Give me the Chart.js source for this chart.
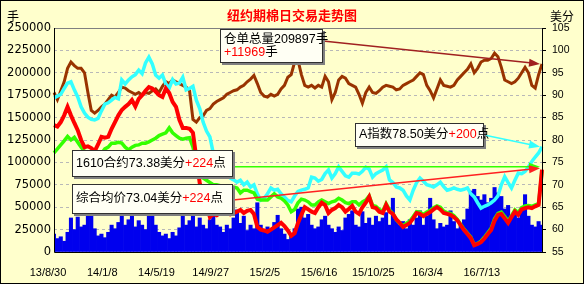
<!DOCTYPE html>
<html lang="zh-CN">
<head>
<meta charset="UTF-8">
<title>纽约期棉日交易走势图</title>
<script src="https://cdn.jsdelivr.net/npm/chart.js"></script>
<style>
    html, body { margin: 0; padding: 0; background: #ffffff; }
    canvas { display: block; }
</style>
</head>
<body>
<canvas id="myChart" width="587" height="288"></canvas>
<script>
    // x轴日期标签 (每16个点一个)
    var tickLabels = ['13/8/30', '14/1/8', '14/5/19', '14/9/27', '15/2/5', '15/6/16', '15/10/25', '16/3/4', '16/7/13'];

    // 成交量(手) 左轴
    var volume = [
        20000, 15000, 17000, 12000, 22000, 38000, 25000, 39000, 28000, 30000,
        45000, 40000, 26000, 18000, 20000, 16000, 22000, 30000, 26000, 33000,
        42000, 30000, 36000, 44000, 28000, 35000, 30000, 25000, 44000, 45000,
        30000, 22000, 18000, 20000, 15000, 22000, 18000, 27000, 47000, 30000,
        35000, 44000, 28000, 38000, 30000, 26000, 36000, 40000, 30000, 28000,
        22000, 30000, 26000, 38000, 47000, 32000, 40000, 24000, 30000, 26000,
        55000, 30000, 22000, 28000, 24000, 33000, 41000, 26000, 20000, 14000,
        18000, 26000, 48000, 50000, 38000, 42000, 30000, 26000, 28000, 36000,
        40000, 30000, 26000, 22000, 28000, 24000, 38000, 42000, 46000, 30000,
        28000, 45000, 32000, 38000, 30000, 40000, 34000, 38000, 44000, 30000,
        60000, 36000, 30000, 34000, 26000, 36000, 30000, 38000, 46000, 30000,
        40000, 60000, 36000, 26000, 32000, 28000, 30000, 46000, 34000, 26000,
        30000, 36000, 48000, 68000, 70000, 62000, 58000, 64000, 55000, 60000,
        72000, 66000, 62000, 48000, 52000, 40000, 45000, 38000, 50000, 64000,
        40000, 30000, 28000, 34000, 30000
    ];

    // 仓单总量(手) 左轴
    var stock = [
        178000, 170000, 180000, 190000, 205000, 212000, 208000, 205000, 205000, 200000,
        178000, 158000, 155000, 158000, 162000, 165000, 170000, 175000, 173000, 178000,
        184000, 183000, 180000, 178000, 176000, 178000, 175000, 178000, 177000, 180000,
        182000, 178000, 185000, 190000, 188000, 192000, 190000, 188000, 186000, 184000,
        180000, 148000, 145000, 150000, 152000, 158000, 160000, 165000, 168000, 170000,
        172000, 176000, 178000, 180000, 181000, 184000, 186000, 190000, 193000, 197000,
        188000, 178000, 174000, 173000, 176000, 174000, 176000, 182000, 186000, 195000,
        198000, 212000, 214000, 198000, 186000, 184000, 186000, 183000, 186000, 184000,
        196000, 190000, 170000, 178000, 192000, 196000, 194000, 188000, 186000, 184000,
        176000, 166000, 178000, 184000, 178000, 177000, 180000, 184000, 186000, 185000,
        184000, 181000, 182000, 186000, 188000, 190000, 192000, 196000, 200000, 198000,
        186000, 180000, 172000, 182000, 192000, 186000, 185000, 184000, 186000, 192000,
        196000, 200000, 204000, 210000, 200000, 205000, 212000, 214000, 214000, 216000,
        222000, 218000, 206000, 192000, 190000, 188000, 190000, 194000, 200000, 206000,
        200000, 186000, 183000, 198000, 209897
    ];

    // A指数(美分) 右轴
    var aIndex = [
        89.4, 89.8, 90.2, 91.5, 92.7, 93.0, 91.2, 89.6, 87.4, 86.0,
        85.1, 84.6, 84.5, 84.8, 86.5, 88.0, 88.3, 88.9, 89.5, 89.2,
        93.4, 92.5, 93.4, 94.1, 94.6, 95.6, 94.8, 97.2, 98.5, 97.0,
        94.5, 93.8, 94.5, 92.5, 91.6, 93.5, 92.5, 92.7, 94.0, 91.2,
        91.5, 92.0, 88.9, 87.0, 84.0, 82.0, 80.7, 77.1, 75.0, 73.5,
        72.5, 72.0, 71.5, 71.1, 70.6, 71.0, 70.0, 70.6, 69.5, 70.0,
        68.0, 66.6, 67.0, 68.0, 69.3, 68.8, 69.0, 68.0, 67.3, 66.5,
        66.2, 67.5, 68.5, 68.8, 69.0, 69.3, 71.7, 71.5, 70.8, 71.2,
        72.5, 73.3, 71.5, 72.5, 74.0, 73.0, 72.0, 71.7, 72.6, 72.6,
        72.4, 73.0, 73.9, 73.5, 71.7, 72.5, 72.9, 73.3, 74.0, 71.1,
        70.5, 69.5, 69.3, 68.8, 67.5, 66.6, 68.8, 70.5, 71.5, 70.8,
        70.0, 69.8, 69.5, 70.0, 70.6, 69.6, 68.8, 69.0, 69.3, 69.0,
        68.8, 69.0, 69.3, 68.0, 67.3, 66.0, 64.8, 65.2, 65.5, 66.0,
        66.6, 67.5, 70.0, 71.8, 70.5, 69.3, 71.0, 72.6, 72.5, 73.0,
        74.0, 75.2, 76.2, 77.1, 78.5
    ];

    // 1610合约(美分) 右轴
    var c1610 = [
        83.3, 83.0, 84.0, 85.5, 87.4, 85.5, 83.8, 82.2, 80.0, 78.4,
        78.6, 78.2, 77.5, 79.0, 80.7, 80.5, 80.7, 82.5, 84.0, 85.5,
        86.7, 87.4, 88.0, 88.9, 87.5, 89.2, 90.0, 91.0, 91.8, 91.5,
        90.8, 90.0, 89.6, 91.5, 90.5, 88.5, 87.4, 84.5, 82.7, 82.7,
        82.5, 81.6, 76.0, 70.4, 68.0, 65.5, 62.8, 63.5, 63.2, 63.7,
        63.5, 63.7, 63.4, 63.7, 64.0, 64.4, 63.7, 64.2, 64.4, 63.5,
        60.6, 60.0, 59.8, 59.5, 60.0, 60.5, 61.0, 61.5, 60.8, 59.8,
        58.6, 59.2, 61.5, 63.3, 65.0, 64.5, 64.0, 63.7, 65.0, 66.0,
        65.5, 63.7, 64.4, 64.8, 65.5, 65.0, 64.0, 64.6, 65.3, 64.0,
        63.5, 65.0, 66.0, 67.3, 65.0, 64.8, 64.0, 63.7, 65.5, 64.0,
        63.5, 62.3, 61.5, 60.6, 61.0, 61.5, 62.5, 63.7, 63.5, 63.0,
        63.5, 63.9, 64.5, 65.0, 64.5, 63.7, 63.5, 63.3, 62.8, 62.1,
        61.0, 59.9, 59.0, 58.1, 56.5, 56.8, 57.2, 58.0, 59.0, 59.9,
        62.0, 63.3, 63.5, 62.5, 61.5, 62.8, 64.0, 63.3, 64.5, 64.8,
        65.0, 64.8, 65.2, 65.5, 73.38
    ];

    // 综合均价(美分) 右轴
    var avgPrice = [
        77.1, 78.0, 78.9, 79.8, 80.8, 80.0, 80.6, 79.5, 78.4, 77.5,
        76.5, 76.0, 75.5, 76.0, 77.0, 78.0, 78.4, 79.3, 79.3, 79.5,
        79.3, 78.4, 77.8, 78.4, 78.8, 78.9, 79.3, 79.3, 79.6, 80.0,
        80.4, 81.0, 81.3, 81.6, 82.7, 81.6, 81.0, 80.4, 80.2, 80.4,
        80.5, 78.4, 75.0, 72.5, 71.5, 71.0, 70.5, 70.0, 70.0, 69.8,
        69.5, 69.6, 69.5, 69.5, 69.3, 68.2, 68.8, 68.8, 68.5, 68.2,
        66.8, 66.6, 66.6, 66.6, 67.3, 68.0, 67.3, 67.0, 66.4, 65.5,
        64.0, 64.5, 66.0, 66.8, 66.6, 66.2, 65.5, 65.5, 66.2, 66.6,
        66.2, 65.8, 66.2, 66.4, 67.0, 66.6, 66.0, 65.8, 66.2, 66.2,
        65.5, 66.2, 66.6, 67.5, 65.4, 65.2, 64.5, 64.1, 65.8, 64.4,
        63.6, 62.2, 61.4, 60.9, 61.4, 61.9, 62.9, 64.0, 63.9, 63.4,
        63.9, 64.3, 64.9, 65.3, 65.0, 64.1, 63.8, 63.6, 63.1, 62.3,
        61.2, 60.1, 59.2, 58.3, 56.6, 56.9, 57.4, 58.3, 59.3, 60.3,
        62.4, 63.6, 63.9, 62.9, 61.9, 63.1, 64.4, 63.8, 64.9, 65.3,
        65.4, 65.2, 65.5, 65.8, 73.04
    ];

    // 标注文字用的最新数据
    var stockNow = 209897, stockChg = 11969;
    var aNow = '78.50', aChg = 200;
    var c1610Now = '73.38', c1610Chg = 224;
    var avgNow = '73.04', avgChg = 224;

    var labels = volume.map(function (v, i) { return i; });
    var BG = '#ffffcc';

    function drawArrow(ctx, x1, y1, x2, y2, color) {
        var ang = Math.atan2(y2 - y1, x2 - x1);
        ctx.save();
        ctx.strokeStyle = color;
        ctx.fillStyle = color;
        ctx.lineWidth = 1.5;
        ctx.beginPath();
        ctx.moveTo(x1, y1);
        ctx.lineTo(x2 - 8 * Math.cos(ang), y2 - 8 * Math.sin(ang));
        ctx.stroke();
        ctx.beginPath();
        ctx.moveTo(x2, y2);
        ctx.lineTo(x2 - 11 * Math.cos(ang) + 4 * Math.sin(ang), y2 - 11 * Math.sin(ang) - 4 * Math.cos(ang));
        ctx.lineTo(x2 - 11 * Math.cos(ang) - 4 * Math.sin(ang), y2 - 11 * Math.sin(ang) + 4 * Math.cos(ang));
        ctx.closePath();
        ctx.fill();
        ctx.restore();
    }

    function drawNote(ctx, x, y, w, h, lines) {
        ctx.save();
        ctx.fillStyle = '#808080';
        ctx.fillRect(x + 2, y + 2, w, h);
        ctx.fillStyle = '#fffff4';
        ctx.fillRect(x, y, w, h);
        ctx.strokeStyle = '#303030';
        ctx.lineWidth = 1;
        ctx.strokeRect(x + 0.5, y + 0.5, w - 1, h - 1);
        ctx.font = "12.5px 'Liberation Sans', 'Noto Sans CJK SC'";
        ctx.textBaseline = 'middle';
        var lh = h / lines.length;
        lines.forEach(function (parts, k) {
            var tx = x + 4;
            var ty = y + lh * k + lh / 2 + (lines.length > 1 ? (k === 0 ? 2 : -2) : 0);
            parts.forEach(function (p) {
                ctx.fillStyle = p[1];
                ctx.fillText(p[0], tx, ty);
                tx += ctx.measureText(p[0]).width;
            });
        });
        ctx.restore();
    }

    var framePlugin = {
        id: 'frame',
        beforeDraw: function (chart) {
            var ctx = chart.ctx;
            ctx.save();
            ctx.fillStyle = '#ffffff';
            ctx.fillRect(0, 0, chart.width, chart.height);
            ctx.fillStyle = BG;
            ctx.fillRect(0, 0, 584, 284);
            ctx.strokeStyle = '#000000';
            ctx.lineWidth = 1;
            ctx.strokeRect(0.5, 0.5, 583, 283);
            // 标题和单位
            ctx.textAlign = 'center';
            ctx.textBaseline = 'middle';
            ctx.fillStyle = '#ff0000';
            ctx.font = "bold 13px 'Noto Sans CJK SC'";
            ctx.fillText('纽约期棉日交易走势图', 292, 15);
            ctx.fillStyle = '#000000';
            ctx.font = "12px 'Noto Sans CJK SC'";
            ctx.fillText('手', 13, 16);
            ctx.fillText('美分', 562, 16);
            ctx.restore();
        },
        afterDatasetsDraw: function (chart) {
            var ctx = chart.ctx, a = chart.chartArea;
            ctx.save();
            ctx.lineWidth = 1;
            ctx.setLineDash([]);
            ctx.strokeStyle = '#808080';
            ctx.beginPath();
            ctx.moveTo(a.left, a.top + 0.5);
            ctx.lineTo(a.right, a.top + 0.5);
            ctx.stroke();
            ctx.strokeStyle = '#000000';
            ctx.beginPath();
            ctx.moveTo(a.left + 0.5, a.top);
            ctx.lineTo(a.left + 0.5, a.bottom + 0.5);
            ctx.lineTo(a.right + 0.5, a.bottom + 0.5);
            ctx.lineTo(a.right + 0.5, a.top);
            ctx.stroke();
            ctx.restore();
        },
        afterDraw: function (chart) {
            var ctx = chart.ctx;
            var sx = chart.scales.x, yl = chart.scales.y, yr = chart.scales.y1;
            var xEnd = sx.getPixelForValue(labels.length - 1) - 2;

            drawArrow(ctx, 323, 41, xEnd, yl.getPixelForValue(stockNow), '#a02020');
            drawArrow(ctx, 484, 135, xEnd, yr.getPixelForValue(parseFloat(aNow)), '#33ffff');
            var g = yr.getPixelForValue(parseFloat(c1610Now)) - 3;
            drawArrow(ctx, 233, g, xEnd, g, '#33ff00');
            drawArrow(ctx, 233, 200, xEnd, yr.getPixelForValue(parseFloat(avgNow)) - 3, '#ff2020');

            drawNote(ctx, 220, 29, 103, 34, [
                [['仓单总量' + stockNow + '手', '#000']],
                [['+' + stockChg, '#ff0000'], ['手', '#000']]
            ]);
            drawNote(ctx, 355, 123, 129, 24, [
                [['A指数' + aNow + '美分', '#000'], ['+' + aChg, '#ff0000'], ['点', '#000']]
            ]);
            drawNote(ctx, 72, 150, 161, 27, [
                [['1610合约' + c1610Now + '美分', '#000'], ['+' + c1610Chg, '#ff0000'], ['点', '#000']]
            ]);
            drawNote(ctx, 72, 184, 161, 30, [
                [['综合均价' + avgNow + '美分', '#000'], ['+' + avgChg, '#ff0000'], ['点', '#000']]
            ]);
        }
    };

    var ctx = document.getElementById('myChart');
    var myChart = new Chart(ctx, {
        type: 'bar',
        data: {
            labels: labels,
            datasets: [{
                type: 'line',
                label: '1610合约',
                data: c1610,
                yAxisID: 'y1',
                borderColor: '#ff0000',
                borderWidth: 4,
                pointRadius: 0,
                tension: 0,
                order: 1
            }, {
                type: 'line',
                label: '综合均价',
                data: avgPrice,
                yAxisID: 'y1',
                borderColor: '#33ff00',
                borderWidth: 3.5,
                pointRadius: 0,
                tension: 0,
                order: 2
            }, {
                type: 'line',
                label: 'A指数',
                data: aIndex,
                yAxisID: 'y1',
                borderColor: '#33ffff',
                borderWidth: 3.5,
                pointRadius: 0,
                tension: 0,
                order: 3
            }, {
                type: 'line',
                label: '仓单总量',
                data: stock,
                yAxisID: 'y',
                borderColor: '#993300',
                borderWidth: 3,
                pointRadius: 0,
                tension: 0,
                order: 4
            }, {
                type: 'bar',
                label: '成交量',
                data: volume,
                yAxisID: 'y',
                backgroundColor: '#0000ee',
                barPercentage: 1,
                categoryPercentage: 1,
                order: 5
            }]
        },
        options: {
            responsive: false,
            animation: false,
            layout: { padding: { top: 28, left: 0, right: 0, bottom: 0 } },
            plugins: {
                legend: { display: false },
                tooltip: { enabled: false }
            },
            scales: {
                x: {
                    offset: false,
                    grid: { display: false },
                    border: { display: false },
                    ticks: {
                        autoSkip: false,
                        maxRotation: 0,
                        padding: 6,
                        labelOffset: -6,
                        color: '#000',
                        font: { family: 'Liberation Sans', size: 11 },
                        callback: function (val, idx) {
                            return idx % 16 === 0 ? tickLabels[idx / 16] : null;
                        }
                    },
                    afterFit: function (s) { s.height = 36; }
                },
                y: {
                    position: 'left',
                    min: 0,
                    max: 250000,
                    grid: {
                        drawTicks: false,
                        color: function (c) {
                            return (c.tick && (c.tick.value === 0 || c.tick.value === 250000)) ? 'rgba(0,0,0,0)' : '#b8b8b8';
                        }
                    },
                    border: { display: false, dash: [3, 3] },
                    ticks: {
                        stepSize: 25000,
                        padding: 3,
                        color: '#000',
                        font: { family: 'DejaVu Sans', size: 11.5 },
                        callback: function (v) { return String(v); }
                    },
                    afterFit: function (s) { s.width = 54; }
                },
                y1: {
                    position: 'right',
                    min: 55,
                    max: 105,
                    grid: { drawOnChartArea: false, tickLength: 4, color: '#000' },
                    border: { display: false },
                    ticks: {
                        stepSize: 5,
                        padding: 6,
                        color: '#000',
                        font: { family: 'Liberation Sans', size: 10.5 }
                    },
                    afterFit: function (s) { s.width = 45; }
                }
            }
        },
        plugins: [framePlugin]
    });
</script>
</body>
</html>
